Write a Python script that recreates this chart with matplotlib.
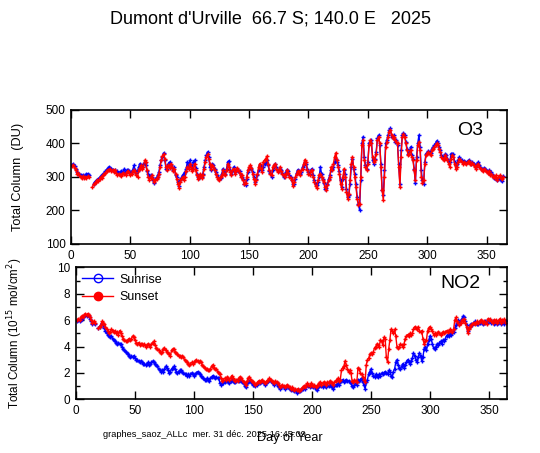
import numpy as np
import matplotlib
matplotlib.use("Agg")
import matplotlib.pyplot as plt
from matplotlib.ticker import MultipleLocator
from matplotlib.lines import Line2D

plt.rcParams['font.family'] = ['Liberation Sans', 'DejaVu Sans']

nan = np.nan

# day of year 1..364
days = np.arange(1, 365)

# O3 total column (DU), sunrise
o3_sunrise = [
    336, 340, 334, 325, 315, 308, 310, 305, 302, 306,
    300, 305, 308, 310, 305, nan, nan, nan, 280, 285,
    288, 292, 295, 298, 302, 305, 308, 312, 318, 322,
    326, 330, 328, 325, 322, 318, 320, 316, 318, 312,
    312, 318, 314, 316, 325, 312, 320, 322, 318, 312,
    315, 322, 335, 320, 312, 318, 330, 340, 332, 330,
    338, 342, 336, 318, 310, 300, 305, 300, 290, 282,
    295, 298, 305, 315, 335, 352, 360, 372, 350, 325,
    325, 340, 345, 335, 328, 320, 330, 305, 300, 285,
    272, 290, 298, 305, 310, 315, 325, 345, 330, 350,
    335, 325, 345, 350, 328, 310, 300, 296, 305, 300,
    310, 330, 350, 365, 375, 360, 330, 320, 340, 335,
    325, 315, 305, 300, 295, 298, 310, 325, 315, 310,
    325, 345, 348, 320, 310, 318, 330, 315, 320, 325,
    318, 318, 305, 300, 295, 280, 275, 295, 315, 325,
    330, 325, 315, 300, 285, 295, 305, 320, 335, 330,
    320, 330, 340, 345, 350, 335, 318, 312, 300, 320,
    330, 340, 330, 320, 318, 325, 322, 312, 300, 305,
    315, 322, 318, 305, 300, 292, 278, 280, 295, 312,
    322, 318, 310, 315, 330, 335, 345, 340, 325, 315,
    310, 320, 325, 305, 290, 280, 275, 285, 300, 330,
    310, 295, 282, 265, 268, 280, 295, 305, 320, 325,
    330, 345, 355, 345, 335, 318, 290, 270, 295, 320,
    310, 265, 240, 245, 280, 330, 355, 325, 310, 280,
    240, 220, 201, 290, 400, 420, 360, 335, 325, 345,
    400, 405, 410, 350, 340, 355, 375, 415, 425, 395,
    340, 261, 245, 320, 400, 410, 425, 440, 445, 420,
    420, 425, 405, 410, 395, 340, 280, 380, 425, 432,
    425, 405, 385, 370, 375, 390, 365, 355, 325, 281,
    360, 400, 425, 390, 320, 290, 280, 345, 370, 372,
    378, 375, 372, 385, 390, 395, 400, 408, 400, 390,
    380, 365, 360, 355, 368, 365, 355, 345, 345, 370,
    370, 368, 345, 335, 340, 350, 360, 355, 350, 345,
    348, 346, 343, 347, 350, 345, 340, 345, 338, 335,
    330, 340, 345, 335, 328, 325, 320, 328, 325, 318,
    315, 320, 310, 315, 305, 298, 300, 295, 290, 295,
    300, 292, 288, 302,
]

# O3 total column (DU), sunset
o3_sunset = [
    332, 335, 328, 322, 310, 312, 305, 300, 298, 302,
    296, 300, 298, 302, 300, nan, nan, 270, 278, 282,
    285, 290, 288, 295, 300, 298, 305, 310, 312, 318,
    322, 320, 325, 318, 320, 315, 322, 312, 305, 308,
    306, 304, 310, 312, 308, 306, 315, 318, 312, 306,
    310, 318, 320, 314, 305, 300, 320, 328, 335, 325,
    330, 350, 345, 320, 300, 292, 298, 305, 295, 285,
    290, 295, 300, 310, 330, 350, 362, 368, 355, 330,
    320, 335, 328, 340, 330, 318, 325, 310, 295, 280,
    268, 285, 295, 300, 290, 300, 318, 330, 325, 338,
    330, 318, 325, 340, 320, 305, 295, 300, 310, 298,
    305, 325, 345, 360, 368, 355, 340, 325, 335, 330,
    320, 310, 300, 295, 292, 300, 305, 320, 310, 305,
    320, 340, 330, 315, 305, 320, 325, 310, 318, 328,
    322, 312, 300, 305, 290, 278, 282, 300, 320, 330,
    335, 328, 310, 295, 280, 290, 310, 330, 340, 325,
    315, 345, 350, 355, 362, 340, 320, 310, 305, 330,
    335, 338, 325, 315, 320, 330, 318, 310, 305, 300,
    310, 320, 312, 300, 298, 290, 272, 285, 300, 310,
    318, 315, 305, 320, 325, 340, 352, 345, 320, 310,
    305, 318, 322, 300, 285, 272, 268, 290, 305, 310,
    300, 290, 285, 270, 260, 275, 290, 300, 330, 320,
    340, 360, 372, 350, 330, 310, 280, 265, 300, 325,
    300, 255, 235, 250, 290, 340, 360, 330, 300, 270,
    235, 216, 220, 300, 395, 410, 350, 330, 320, 340,
    395, 410, 400, 360, 345, 350, 370, 410, 420, 400,
    330, 260, 231, 300, 390, 405, 420, 435, 440, 425,
    415, 420, 410, 405, 400, 330, 271, 360, 420, 428,
    420, 400, 380, 365, 370, 380, 360, 350, 320, 290,
    350, 395, 405, 380, 300, 282, 290, 340, 365, 370,
    375, 370, 365, 380, 385, 390, 395, 400, 395, 385,
    375, 360, 355, 350, 365, 358, 350, 340, 330, 355,
    365, 360, 340, 325, 330, 345, 355, 350, 345, 340,
    345, 342, 340, 345, 348, 340, 338, 342, 335, 330,
    325, 335, 340, 330, 325, 322, 318, 325, 320, 315,
    312, 318, 305, 310, 300, 302, 298, 305, 292, 300,
    305, 298, 295, 300,
]

# NO2 total column (1e15 mol/cm2), sunrise
no2_sunrise = [
    5.9, 6.0, 5.9, 6.0, 6.1, 6.2, 6.3, 6.4, 6.3, 6.4,
    6.3, 6.1, 5.9, 5.7, 5.8, 5.7, nan, nan, 5.4, 5.5,
    5.6, 5.8, 5.6, 5.4, 5.2, 5.0, 4.9, 4.8, 4.7, 4.8,
    4.6, 4.5, 4.4, 4.3, 4.2, 4.3, 4.2, 4.2, 4.0, 3.8,
    3.7, 3.6, 3.5, 3.4, 3.3, 3.2, 3.3, 3.2, 3.3, 3.1,
    3.0, 3.0, 2.9, 2.8, 2.9, 2.8, 2.7, 2.7, 2.6, 2.7,
    2.8, 2.6, 2.7, 2.8, 2.9, 2.8, 2.7, 2.6, 2.5, 2.3,
    2.2, 2.1, 2.2, 2.1, 2.3, 2.5, 2.4, 2.2, 2.0, 2.1,
    2.3, 2.4, 2.5, 2.3, 2.1, 2.0, 2.1, 2.2, 2.2, 2.1,
    2.0, 1.9, 1.9, 1.8, 1.9, 1.8, 1.9, 2.0, 1.9, 1.8,
    1.9, 2.0, 2.1, 2.0, 1.9, 1.8, 1.7, 1.6, 1.5, 1.5,
    1.6, 1.5, 1.4, 1.6, 1.7, 1.8, 1.7, 1.6, 1.7, 1.6,
    1.6, 1.2, 1.1, 1.2, 1.2, 1.3, 1.4, 1.5, 1.3, 1.2,
    1.4, 1.5, 1.4, 1.3, 1.3, 1.4, 1.5, 1.4, 1.5, 1.4,
    1.3, 1.2, 1.0, 0.9, 1.2, 1.3, 1.4, 1.3, 1.2, 1.1,
    1.1, 1.0, 1.1, 1.2, 1.3, 1.2, 1.3, 1.4, 1.2, 1.1,
    1.2, 1.3, 1.4, 1.5, 1.4, 1.3, 1.2, 1.1, 1.3, 1.2,
    1.0, 0.9, 0.8, 0.9, 1.0, 0.9, 0.8, 0.9, 1.0, 0.9,
    0.8, 0.7, 0.8, 0.7, 0.6, 0.7, 0.5, 0.6, 0.7, 0.6,
    0.7, 0.8, 0.9, 0.8, 1.0, 1.1, 1.0, 0.9, 1.0, 1.0,
    0.9, 1.0, 0.8, 0.7, 0.9, 1.0, 1.1, 1.0, 0.9, 1.1,
    1.0, 0.9, 1.1, 1.0, 1.1, 1.0, 0.9, 0.8, 1.0, 1.1,
    1.1, 1.2, 1.1, 1.3, 1.4, 1.5, 1.3, 1.4, 1.5, 1.4,
    1.4, 1.3, 1.2, 1.0, 0.9, 1.1, 1.2, 1.1, 1.5, 1.4,
    1.5, 1.6, 1.3, 1.1, 0.8, 1.3, 1.5, 1.9, 2.1, 2.3,
    2.0, 1.8, 1.7, 1.9, 1.8, 1.7, 1.9, 1.8, 2.0, 1.9,
    2.0, 2.1, 2.0, 1.9, 2.2, 2.1, 1.8, 1.7, 2.1, 2.3,
    2.8, 3.0, 2.6, 2.4, 2.3, 2.5, 2.7, 2.4, 2.6, 2.8,
    3.0, 2.8, 2.7, 2.9, 3.1, 3.5, 3.3, 3.0, 2.8, 3.2,
    3.5, 3.3, 2.9, 3.2, 3.8, 4.0, 3.7, 4.2, 4.5, 4.8,
    4.6, 4.2, 3.9, 3.8, 4.0, 4.2, 4.1, 4.3, 4.4, 4.2,
    4.5, 4.4, 4.6, 4.8, 4.9, 4.8, 5.0, 4.9, 5.0, 5.1,
    5.4, 5.6, 5.8, 6.0, 5.7, 5.9, 6.1, 6.3, 6.2, 5.9,
    5.6, 5.2, 5.4, 5.6, 5.7, 5.6, 5.8, 5.9, 5.8, 5.7,
    5.7, 5.8, 5.9, 5.8, 5.7, 5.8, 5.9, 5.8, 6.0, 5.9,
    6.0, 5.8, 5.9, 5.7, 5.8, 5.9, 5.7, 5.8, 5.9, 5.7,
    5.8, 5.9, 5.7, 5.9,
]

# NO2 total column (1e15 mol/cm2), sunset
no2_sunset = [
    6.0, 6.1, 6.0, 6.2, 6.3, 6.2, 6.4, 6.5, 6.4, 6.5,
    6.4, 6.2, 6.0, 5.8, 5.9, 5.8, nan, nan, 5.4, 5.5,
    5.6, 5.9, 5.8, 5.7, 5.5, 5.3, 5.2, 5.0, 5.1, 5.3,
    5.2, 5.1, 5.2, 5.0, 5.1, 4.9, 5.2, 5.0, 4.8, 4.6,
    4.5, 4.4, 4.4, 4.5, 4.6, 4.5, 4.6, 4.8, 4.7, 4.5,
    4.3, 4.2, 4.3, 4.1, 4.2, 4.2, 4.1, 4.2, 4.0, 4.1,
    4.2, 4.1, 4.0, 4.2, 4.3, 4.4, 4.1, 3.9, 3.8, 3.7,
    3.6, 3.5, 3.6, 3.8, 3.9, 3.7, 3.6, 3.5, 3.4, 3.3,
    3.7, 3.8, 3.8, 3.6, 3.5, 3.4, 3.3, 3.3, 3.2, 3.3,
    3.2, 3.0, 2.9, 2.8, 2.7, 2.6, 2.7, 2.8, 2.7, 2.8,
    2.9, 3.0, 2.9, 2.8, 2.9, 2.8, 2.6, 2.5, 2.4, 2.3,
    2.3, 2.2, 2.2, 2.3, 2.5, 2.6, 2.4, 2.3, 2.3, 2.1,
    2.0, 1.9, 1.6, 1.4, 1.5, 1.6, 1.5, 1.7, 1.6, 1.5,
    1.6, 1.8, 1.6, 1.5, 1.4, 1.5, 1.4, 1.6, 1.7, 1.6,
    1.5, 1.3, 1.2, 1.1, 1.4, 1.6, 1.7, 1.5, 1.4, 1.3,
    1.2, 1.1, 1.2, 1.3, 1.4, 1.3, 1.4, 1.5, 1.3, 1.2,
    1.3, 1.4, 1.5, 1.6, 1.5, 1.4, 1.3, 1.2, 1.4, 1.3,
    1.2, 1.1, 0.9, 1.0, 1.1, 1.0, 0.9, 1.0, 1.1, 1.0,
    0.9, 0.8, 0.9, 0.8, 0.7, 0.8, 0.7, 0.8, 0.6, 0.7,
    0.8, 0.9, 1.0, 0.9, 1.1, 1.2, 1.1, 1.0, 1.2, 1.1,
    1.0, 1.1, 0.9, 1.0, 1.1, 1.2, 1.3, 1.1, 1.2, 1.3,
    1.2, 1.1, 1.3, 1.2, 1.4, 1.3, 1.2, 1.1, 1.3, 1.4,
    1.5, 1.6, 1.4, 1.5, 2.2, 2.4, 2.5, 2.9, 2.6, 2.3,
    2.1, 2.2, 2.0, 1.4, 1.3, 1.5, 1.4, 1.3, 2.4, 2.3,
    2.0, 1.9, 1.7, 1.5, 1.3, 2.6, 3.0, 3.1, 3.4, 3.5,
    3.4, 3.6, 3.9, 4.0, 4.2, 4.1, 4.0, 4.5, 4.4, 4.1,
    4.7, 4.6, 3.2, 2.8, 3.8, 4.5, 5.3, 5.2, 5.0, 5.3,
    4.8, 4.0, 3.9, 4.0, 4.2, 4.1, 4.0, 4.2, 4.6, 4.8,
    4.9, 4.8, 5.0, 4.9, 5.0, 5.3, 5.5, 5.4, 5.3, 5.5,
    5.2, 5.1, 5.2, 4.6, 4.2, 4.4, 4.5, 5.2, 5.4, 5.5,
    5.3, 5.2, 4.9, 5.0, 4.9, 5.0, 5.1, 5.0, 4.9, 5.0,
    5.1, 5.0, 5.1, 5.2, 5.1, 5.2, 5.3, 5.2, 5.1, 5.3,
    6.0, 6.2, 5.9, 5.8, 5.6, 5.8, 6.0, 5.9, 6.1, 5.8,
    5.5, 5.0, 5.3, 5.5, 5.6, 5.7, 5.8, 5.7, 5.8, 5.9,
    5.8, 5.9, 6.0, 5.9, 5.8, 5.9, 5.8, 5.7, 6.1, 6.0,
    6.1, 5.9, 5.8, 6.0, 5.9, 6.0, 5.8, 5.9, 6.1, 5.8,
    6.0, 5.9, 6.1, 5.8,
]

blue = '#0000ff'
red = '#ff0000'

fig = plt.figure(figsize=(5.4, 4.53), dpi=100)
ax1 = fig.add_axes([0.1315, 0.4614, 0.807, 0.2958])
ax2 = fig.add_axes([0.1407, 0.1185, 0.7976, 0.2914])

for ax in (ax1, ax2):
    ax.tick_params(direction='in', top=True, right=True, labelsize=8.5, length=6, width=1, pad=4)
    ax.tick_params(which='minor', direction='in', top=True, right=True, length=3, width=1)
    for s in ax.spines.values():
        s.set_linewidth(1.2)
    ax.xaxis.set_major_locator(MultipleLocator(50))

ax1.set_xlim(0, 367)
ax2.set_xlim(0, 365)

ax1.plot(days, o3_sunrise, color=blue, lw=1, marker='+', ms=3.5, mew=1)
ax1.plot(days, o3_sunset, color=red, lw=1, marker='+', ms=3.5, mew=1)
ax1.set_ylim(100, 500)
ax1.yaxis.set_major_locator(MultipleLocator(100))
ax1.set_ylabel('Total Column  (DU)', fontsize=9.2)
ax1.yaxis.set_label_coords(-0.108, 0.5)
ax1.text(0.945, 0.85, 'O3', transform=ax1.transAxes, fontsize=14, ha='right', va='center')

ax2.plot(days, no2_sunrise, color=blue, lw=1, marker='+', ms=3.5, mew=1)
ax2.plot(days, no2_sunset, color=red, lw=1, marker='+', ms=3.5, mew=1)
ax2.set_ylim(0, 10)
ax2.yaxis.set_major_locator(MultipleLocator(2))
ax2.yaxis.set_minor_locator(MultipleLocator(1))
ax2.set_ylabel('Total Column (10$^{15}$ mol/cm$^{2}$)', fontsize=8.4)
ax2.yaxis.set_label_coords(-0.118, 0.5)
ax2.text(0.94, 0.875, 'NO2', transform=ax2.transAxes, fontsize=14, ha='right', va='center')

handles = [
    Line2D([], [], color=blue, lw=1, marker='o', mfc='none', mec=blue, ms=6),
    Line2D([], [], color=red, lw=1, marker='o', mfc=red, mec=red, ms=6),
]
ax2.legend(handles, ['Sunrise', 'Sunset'], loc='upper left', frameon=False,
           fontsize=9, handlelength=2.5, handletextpad=0.5,
           borderaxespad=0.2, borderpad=0.3, labelspacing=0.45)

fig.text(0.5, 0.958, "Dumont d'Urville  66.7 S; 140.0 E   2025", ha='center', va='center', fontsize=13)
fig.text(0.537, 0.033, 'Day of Year', ha='center', va='center', fontsize=9.2)
fig.text(0.19, 0.04, 'graphes_saoz_ALLc  mer. 31 déc. 2025 16:45:09', ha='left', va='center', fontsize=6.7)

fig.savefig('out.png', dpi=100)
